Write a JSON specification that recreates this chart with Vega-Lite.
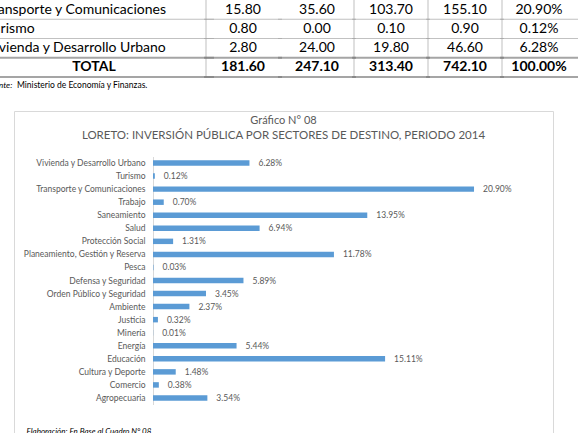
{
  "$schema": "https://vega.github.io/schema/vega-lite/v6.json",
  "width": 539,
  "height": 335,
  "autosize": {"type": "none"},
  "padding": {"left": 14, "top": 111, "right": 30, "bottom": 0},
  "background": "white",
  "config": {
    "font": "Lato",
    "view": {"stroke": "#d9d9d9", "strokeWidth": 1}
  },
  "datasets": {
    "titulos": [
      {"linea": "Gráfico N° 08"},
      {"linea": "LORETO: INVERSIÓN PÚBLICA POR SECTORES DE DESTINO, PERIODO 2014"}
    ],
    "sectores": [
      {"sector": "Vivienda y Desarrollo Urbano", "participacion": 0.0628},
      {"sector": "Turismo", "participacion": 0.0012},
      {"sector": "Transporte y Comunicaciones", "participacion": 0.2090},
      {"sector": "Trabajo", "participacion": 0.0070},
      {"sector": "Saneamiento", "participacion": 0.1395},
      {"sector": "Salud", "participacion": 0.0694},
      {"sector": "Protección Social", "participacion": 0.0131},
      {"sector": "Planeamiento, Gestión y Reserva", "participacion": 0.1178},
      {"sector": "Pesca", "participacion": 0.0003},
      {"sector": "Defensa y Seguridad", "participacion": 0.0589},
      {"sector": "Orden Público y Seguridad", "participacion": 0.0345},
      {"sector": "Ambiente", "participacion": 0.0237},
      {"sector": "Justicia", "participacion": 0.0032},
      {"sector": "Minería", "participacion": 0.0001},
      {"sector": "Energía", "participacion": 0.0544},
      {"sector": "Educación", "participacion": 0.1511},
      {"sector": "Cultura y Deporte", "participacion": 0.0148},
      {"sector": "Comercio", "participacion": 0.0038},
      {"sector": "Agropecuaria", "participacion": 0.0354}
    ],
    "cuadro": [
      {"sector": "Transporte y Comunicaciones", "nacional": 15.80, "regional": 35.60, "local": 103.70, "total": 155.10, "pct": 0.2090},
      {"sector": "Turismo", "nacional": 0.80, "regional": 0.00, "local": 0.10, "total": 0.90, "pct": 0.0012},
      {"sector": "Vivienda y Desarrollo Urbano", "nacional": 2.80, "regional": 24.00, "local": 19.80, "total": 46.60, "pct": 0.0628},
      {"sector": "TOTAL", "nacional": 181.60, "regional": 247.10, "local": 313.40, "total": 742.10, "pct": 1.0}
    ],
    "notas": [
      {"fuente": "Fuente:", "detalle": "Ministerio de Economía y Finanzas."}
    ]
  },
  "layer": [
    {
      "data": {"name": "titulos"},
      "encoding": {
        "y": {
          "field": "linea",
          "type": "nominal",
          "sort": null,
          "scale": {"type": "point", "range": [10, 25], "padding": 0},
          "axis": null
        },
        "text": {"field": "linea", "type": "nominal"}
      },
      "layer": [
        {
          "transform": [{"filter": "datum.linea === 'Gráfico N° 08'"}],
          "mark": {"type": "text", "align": "center", "baseline": "middle", "font": "Lato", "fontSize": 11, "color": "#595959"}
        },
        {
          "transform": [{"filter": "datum.linea !== 'Gráfico N° 08'"}],
          "mark": {"type": "text", "align": "center", "baseline": "middle", "font": "Lato", "fontSize": 11.5, "color": "#595959"}
        }
      ]
    },
    {
      "data": {"name": "sectores"},
      "encoding": {
        "y": {
          "field": "sector",
          "type": "nominal",
          "sort": null,
          "scale": {"type": "band", "range": [45.5, 293.5], "paddingInner": 0.58, "paddingOuter": 0.29},
          "axis": {
            "title": null,
            "offset": -139,
            "domainColor": "#d9d9d9",
            "ticks": false,
            "grid": false,
            "labelPadding": 8,
            "labelFont": "Lato",
            "labelFontSize": 8.5,
            "labelColor": "#595959",
            "labelLimit": 0
          }
        },
        "x": {
          "field": "participacion",
          "type": "quantitative",
          "scale": {"domain": [0, 0.25], "range": [139, 523], "nice": false},
          "axis": {
            "orient": "bottom",
            "domain": false,
            "ticks": false,
            "labels": false,
            "grid": false,
            "title": "Elaboración: En Base al Cuadro N° 08.",
            "titleX": 12,
            "titleY": -15,
            "titleAlign": "left",
            "titleBaseline": "middle",
            "titleFont": "Lato",
            "titleFontSize": 8,
            "titleFontStyle": "italic",
            "titleFontWeight": "normal",
            "titleColor": "#000000"
          }
        }
      },
      "layer": [
        {"mark": {"type": "bar", "color": "#5b9bd5"}},
        {
          "mark": {"type": "text", "align": "left", "baseline": "middle", "dx": 9, "font": "Lato", "fontSize": 8.5, "color": "#595959"},
          "encoding": {"text": {"field": "participacion", "type": "quantitative", "format": ".2%"}}
        }
      ]
    },
    {
      "layer": [
        {
          "data": {"name": "cuadro"},
          "transform": [{"fold": ["nacional", "regional", "local", "total", "pct"], "as": ["columna", "valor"]}],
          "encoding": {
            "x": {
              "field": "columna",
              "type": "nominal",
              "scale": {"type": "band", "domain": ["nacional", "regional", "local", "total", "pct"], "range": [192, 562], "paddingInner": 0, "paddingOuter": 0},
              "axis": null
            },
            "y": {
              "field": "sector",
              "type": "nominal",
              "scale": {"type": "band", "domain": ["Transporte y Comunicaciones", "Turismo", "Vivienda y Desarrollo Urbano", "TOTAL"], "range": [-111, -34], "paddingInner": 0, "paddingOuter": 0},
              "axis": null
            }
          },
          "layer": [
            {
              "transform": [{"filter": "datum.sector !== 'TOTAL'"}],
              "mark": {"type": "text", "font": "Lato", "fontSize": 14, "color": "#000000", "baseline": "middle"},
              "encoding": {
                "text": {
                  "condition": {"test": "datum.columna === 'pct'", "field": "valor", "type": "quantitative", "format": ".2%"},
                  "field": "valor", "type": "quantitative", "format": ".2f"
                }
              }
            },
            {
              "transform": [{"filter": "datum.sector === 'TOTAL'"}],
              "mark": {"type": "text", "font": "Lato", "fontSize": 14, "fontWeight": "bold", "color": "#000000", "baseline": "middle"},
              "encoding": {
                "text": {
                  "condition": {"test": "datum.columna === 'pct'", "field": "valor", "type": "quantitative", "format": ".2%"},
                  "field": "valor", "type": "quantitative", "format": ".2f"
                }
              }
            },
            {
              "transform": [{"filter": "datum.columna !== 'regional'"}],
              "mark": {"type": "tick", "orient": "vertical", "color": "#a6a6a6", "thickness": 1, "size": 20},
              "encoding": {"x": {"field": "columna", "type": "nominal", "bandPosition": 0}}
            },
            {
              "transform": [{"filter": "datum.sector === 'Transporte y Comunicaciones' || datum.sector === 'Turismo'"}],
              "mark": {"type": "tick", "orient": "horizontal", "color": "#a6a6a6", "thickness": 1, "size": 78},
              "encoding": {"y": {"field": "sector", "type": "nominal", "bandPosition": 1}}
            },
            {
              "transform": [{"filter": "datum.sector === 'Vivienda y Desarrollo Urbano' || datum.sector === 'TOTAL'"}],
              "mark": {"type": "tick", "orient": "horizontal", "color": "#7f7f7f", "thickness": 2, "size": 78},
              "encoding": {"y": {"field": "sector", "type": "nominal", "bandPosition": 1}}
            }
          ]
        },
        {
          "data": {"name": "cuadro"},
          "encoding": {
            "x": {
              "datum": "Sector",
              "type": "nominal",
              "scale": {"type": "band", "domain": ["Sector"], "range": [-28, 188], "paddingInner": 0, "paddingOuter": 0},
              "axis": null
            },
            "y": {
              "field": "sector",
              "type": "nominal",
              "scale": {"type": "band", "domain": ["Transporte y Comunicaciones", "Turismo", "Vivienda y Desarrollo Urbano", "TOTAL"], "range": [-111, -34], "paddingInner": 0, "paddingOuter": 0},
              "axis": null
            }
          },
          "layer": [
            {
              "transform": [{"filter": "datum.sector !== 'TOTAL'"}],
              "mark": {"type": "text", "align": "left", "baseline": "middle", "font": "Lato", "fontSize": 14, "color": "#000000"},
              "encoding": {
                "x": {"datum": "Sector", "type": "nominal", "bandPosition": 0},
                "text": {"field": "sector", "type": "nominal"}
              }
            },
            {
              "transform": [{"filter": "datum.sector === 'TOTAL'"}],
              "mark": {"type": "text", "align": "center", "baseline": "middle", "font": "Lato", "fontSize": 14, "fontWeight": "bold", "color": "#000000"},
              "encoding": {"text": {"field": "sector", "type": "nominal"}}
            },
            {
              "transform": [{"filter": "datum.sector === 'Transporte y Comunicaciones' || datum.sector === 'Turismo'"}],
              "mark": {"type": "tick", "orient": "horizontal", "color": "#a6a6a6", "thickness": 1, "size": 240},
              "encoding": {"y": {"field": "sector", "type": "nominal", "bandPosition": 1}}
            },
            {
              "transform": [{"filter": "datum.sector === 'Vivienda y Desarrollo Urbano' || datum.sector === 'TOTAL'"}],
              "mark": {"type": "tick", "orient": "horizontal", "color": "#7f7f7f", "thickness": 2, "size": 240},
              "encoding": {"y": {"field": "sector", "type": "nominal", "bandPosition": 1}}
            },
            {
              "data": {"name": "notas"},
              "mark": {"type": "text", "align": "left", "baseline": "middle", "dy": 8, "font": "Lato", "fontSize": 8.5, "fontStyle": "italic", "color": "#000000"},
              "encoding": {
                "x": {"datum": "Sector", "type": "nominal", "bandPosition": 0},
                "y": {"datum": "TOTAL", "type": "nominal", "bandPosition": 1},
                "text": {"field": "fuente", "type": "nominal"}
              }
            },
            {
              "data": {"name": "notas"},
              "mark": {"type": "text", "align": "left", "baseline": "middle", "dx": 31, "dy": 8, "font": "Lato", "fontSize": 8.5, "color": "#000000"},
              "encoding": {
                "x": {"datum": "Sector", "type": "nominal", "bandPosition": 0},
                "y": {"datum": "TOTAL", "type": "nominal", "bandPosition": 1},
                "text": {"field": "detalle", "type": "nominal"}
              }
            }
          ]
        }
      ],
      "resolve": {"scale": {"x": "independent"}}
    }
  ],
  "resolve": {
    "scale": {"x": "independent", "y": "independent"},
    "axis": {"x": "independent", "y": "independent"}
  }
}
